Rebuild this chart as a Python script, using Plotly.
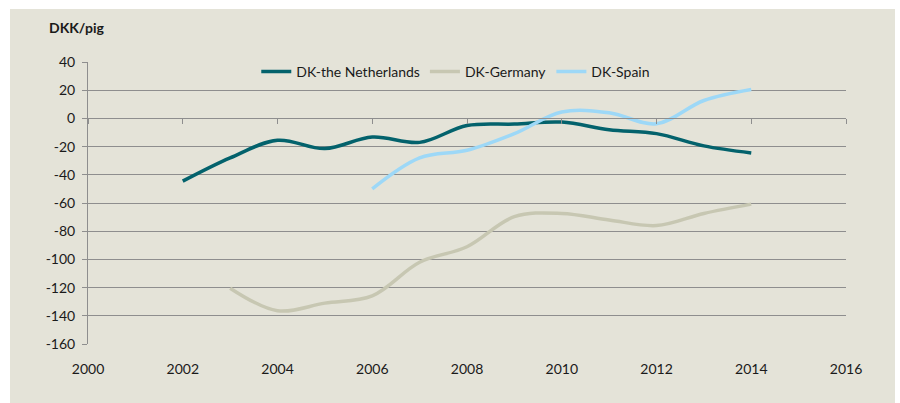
import plotly.graph_objects as go

years_nl = [2002, 2003, 2004, 2005, 2006, 2007, 2008, 2009, 2010, 2011, 2012, 2013, 2014]
dk_nl = [-44.5, -28, -15.5, -21.4, -13.2, -17, -5, -4, -2.6, -8, -10.8, -19.5, -24.5]

years_de = [2003, 2004, 2005, 2006, 2007, 2008, 2009, 2010, 2011, 2012, 2013, 2014]
dk_de = [-120.4, -136.4, -131, -125.8, -102, -91, -69.7, -67.4, -72, -76, -67.4, -60.8]

years_es = [2006, 2007, 2008, 2009, 2010, 2011, 2012, 2013, 2014]
dk_es = [-50, -28, -22.6, -10.8, 4.5, 4, -3.8, 12.7, 20.5]

x_ticks = [2000, 2002, 2004, 2006, 2008, 2010, 2012, 2014, 2016]
y_ticks = [40, 20, 0, -20, -40, -60, -80, -100, -120, -140, -160]

BG = "#e4e3d8"
GRID = "#8e8e8e"
FONT = "Lato"

fig = go.Figure()
fig.add_trace(go.Scatter(x=years_nl, y=dk_nl, mode="lines", name="DK-the Netherlands",
                         line=dict(color="#03626c", width=3.5, shape="spline")))
fig.add_trace(go.Scatter(x=years_de, y=dk_de, mode="lines", name="DK-Germany",
                         line=dict(color="#c7c7b2", width=3.5, shape="spline")))
fig.add_trace(go.Scatter(x=years_es, y=dk_es, mode="lines", name="DK-Spain",
                         line=dict(color="#9dd8f7", width=3.5, shape="spline")))

white_rect = dict(type="rect", xref="paper", yref="paper", fillcolor="white",
                  line=dict(width=0), layer="below")

fig.update_layout(
    width=900, height=403,
    margin=dict(l=88, r=54, t=62, b=59),
    paper_bgcolor=BG,
    plot_bgcolor=BG,
    font=dict(family=FONT, size=14, color="#1a1a1a"),
    showlegend=True,
    legend=dict(orientation="h", x=0.222, y=0.965, xanchor="left", yanchor="middle",
                bgcolor=BG, font=dict(family=FONT, size=14, color="#1a1a1a"),
                itemwidth=30, tracegroupgap=0),
    xaxis=dict(range=[2000, 2016], tickvals=x_ticks, ticktext=[str(v) for v in x_ticks],
               showgrid=False, zeroline=False, showline=False, ticks="outside",
               ticklen=12, tickcolor="rgba(0,0,0,0)"),
    xaxis2=dict(range=[2000, 2016], tickvals=x_ticks, overlaying="x", anchor="free",
                position=0.8, side="bottom", showticklabels=False, showgrid=False,
                zeroline=False, showline=True, linecolor=GRID, linewidth=1,
                ticks="outside", ticklen=5, tickcolor=GRID),
    yaxis=dict(range=[-160, 40], tickvals=y_ticks, ticktext=[str(v) for v in y_ticks],
               showgrid=True, gridcolor=GRID, gridwidth=1, zeroline=False,
               showline=True, linecolor=GRID, linewidth=1, ticks="outside",
               ticklen=5, tickcolor=GRID, ticklabelstandoff=4),
    shapes=[
        dict(white_rect, x0=-0.5, x1=1.5, y0=(344 - 9) / 282, y1=1.5),
        dict(white_rect, x0=-0.5, x1=-78 / 758, y0=-0.5, y1=1.5),
        dict(white_rect, x0=(895 - 88) / 758, x1=1.5, y0=-0.5, y1=1.5),
    ],
    annotations=[dict(text="<b>DKK/pig</b>", xref="paper", yref="paper",
                      x=-41 / 758, y=(344 - 28) / 282, xanchor="left", yanchor="middle",
                      showarrow=False, font=dict(family=FONT, size=14, color="#1a1a1a"))],
)

# invisible trace to activate xaxis2
fig.add_trace(go.Scatter(x=[2000], y=[None], xaxis="x2", showlegend=False, hoverinfo="skip"))

fig.write_html("out.html", config={"displayModeBar": False},
               post_script="document.body.style.margin='0';document.body.style.padding='0';document.body.style.overflow='hidden';")
